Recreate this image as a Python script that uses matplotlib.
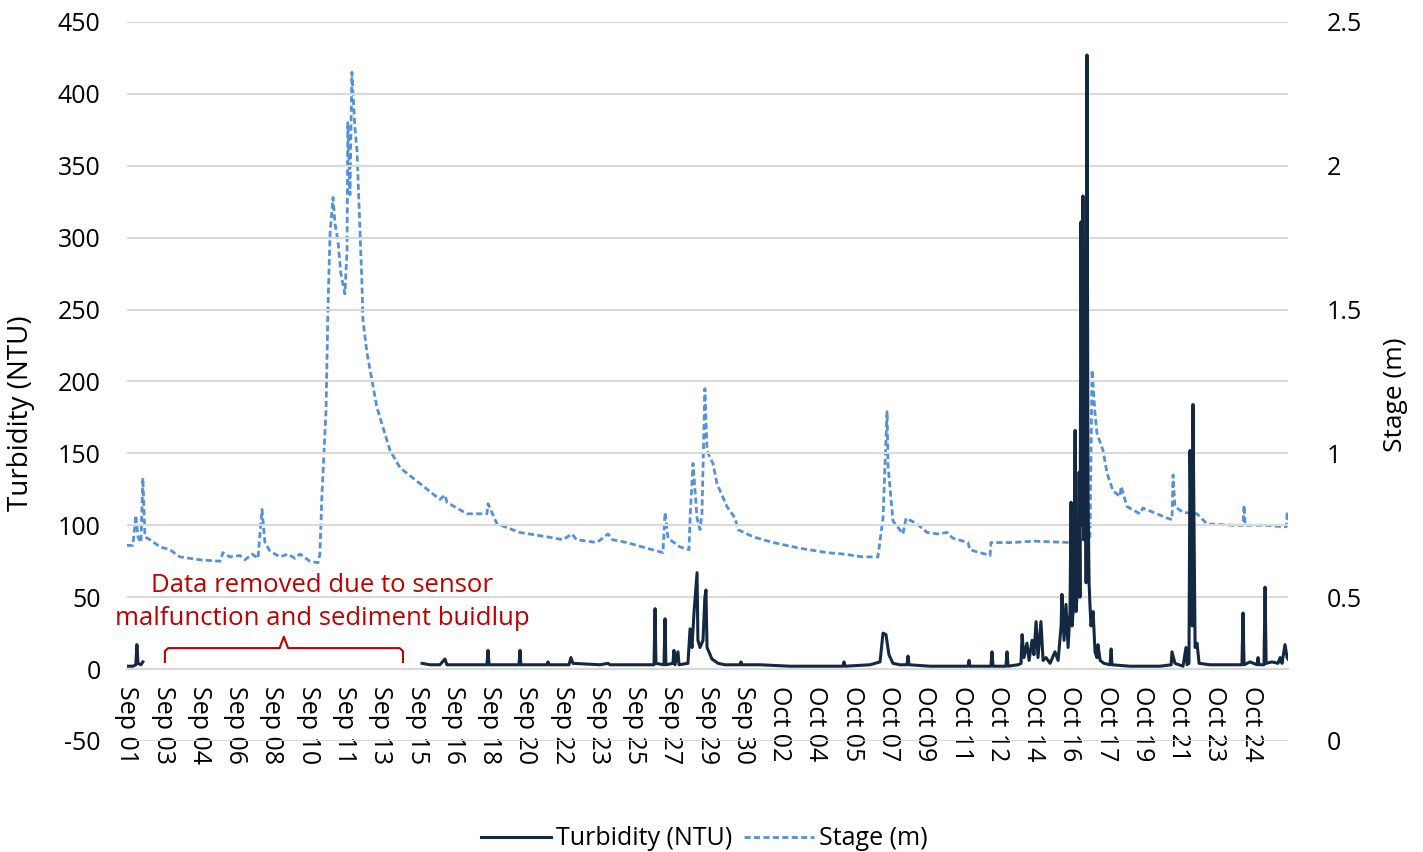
import numpy as np
import matplotlib.pyplot as plt

# time in days since the first record
stage_t = [0.00, 0.28, 0.42, 0.52, 0.66, 0.75, 0.85, 1.08, 1.56, 2.03, 2.50, 3.44, 4.39, 4.53, 4.86,
           5.33, 5.57, 5.90, 6.18, 6.37, 6.51, 6.75, 7.22, 7.59, 7.92, 8.16, 8.63, 9.01, 9.10, 9.20,
           9.39, 9.48, 9.58, 9.72, 9.81, 9.95, 10.09, 10.28, 10.38, 10.42, 10.52, 10.61, 10.75, 10.85,
           11.08, 11.13, 11.32, 11.79, 12.41, 12.88, 13.82, 14.76, 15.00, 15.09, 16.04, 16.98, 17.03,
           17.45, 18.54, 19.81, 20.57, 20.99, 21.20, 22.17, 22.69, 22.90, 23.58, 24.53, 25.28, 25.38,
           25.52, 26.08, 26.51, 26.56, 26.70, 26.89, 27.03, 27.12, 27.26, 27.36, 27.50, 27.64, 27.83,
           28.30, 28.68, 28.82, 29.53, 30.47, 31.75, 33.02, 33.77, 34.72, 35.42, 35.66, 35.85, 35.90,
           36.13, 36.60, 36.75, 37.26, 37.74, 38.21, 38.68, 38.96, 39.67, 39.76, 40.71, 40.75, 41.79,
           42.74, 44.48, 45.42, 45.52, 45.66, 45.75, 46.04, 46.23, 46.51, 46.84, 46.89, 47.17, 47.78,
           47.92, 49.06, 49.29, 49.34, 49.43, 49.81, 50.47, 50.94, 52.17, 52.64, 52.69, 52.74, 53.77,
           54.53, 54.68, 54.72, 54.76]
stage_m = [0.68, 0.68, 0.785, 0.71, 0.69, 0.915, 0.71, 0.70, 0.675, 0.665, 0.64, 0.63, 0.625, 0.655, 0.64,
           0.645, 0.63, 0.65, 0.635, 0.805, 0.69, 0.66, 0.64, 0.65, 0.635, 0.65, 0.625, 0.62, 0.65, 0.86,
           1.15, 1.50, 1.765, 1.89, 1.80, 1.74, 1.625, 1.555, 1.705, 2.15, 1.90, 2.325, 2.135, 2.055,
           1.60, 1.465, 1.35, 1.16, 1.01, 0.95, 0.895, 0.84, 0.855, 0.83, 0.79, 0.79, 0.825,
           0.755, 0.725, 0.71, 0.70, 0.72, 0.70, 0.69, 0.72, 0.70, 0.69, 0.67, 0.655, 0.795,
           0.705, 0.675, 0.665, 0.775, 0.965, 0.775, 0.735, 0.79, 1.225, 1.01, 0.985, 0.965, 0.895,
           0.815, 0.775, 0.735, 0.71, 0.69, 0.67, 0.655, 0.65, 0.64, 0.64, 0.775, 1.145, 0.955,
           0.765, 0.72, 0.775, 0.755, 0.725, 0.72, 0.725, 0.705, 0.69, 0.665, 0.645, 0.69, 0.69,
           0.695, 0.69, 0.705, 1.29, 1.14, 1.07, 1.01, 0.93, 0.87, 0.85, 0.885, 0.815, 0.79,
           0.81, 0.775, 0.77, 0.925, 0.815, 0.795, 0.79, 0.755, 0.75, 0.75, 0.82, 0.75, 0.75,
           0.745, 0.745, 0.79, 0.77]

turb_t = [0.00, 0.28, 0.42, 0.47, 0.52, 0.66, 0.75, 0.80,
          13.92, 14.29, 14.76, 15.00, 15.09, 16.18, 16.98, 17.03, 17.08, 18.07, 18.49, 18.54, 18.58,
          19.81, 19.86, 19.91, 20.85, 20.94, 21.04, 22.31, 22.69, 22.78, 24.20, 24.86, 24.91, 24.95,
          25.33, 25.38, 25.42, 25.75, 25.80, 25.85, 25.99, 26.04, 26.46, 26.56, 26.65, 26.75, 26.89,
          26.93, 27.03, 27.17, 27.26, 27.31, 27.36, 27.45, 27.59, 27.88, 28.21, 28.92, 28.96, 29.01,
          29.86, 31.27, 33.77, 33.82, 33.87, 35.05, 35.52, 35.66, 35.80, 35.94, 36.13, 36.46, 36.79,
          36.84, 36.89, 37.88, 39.67, 39.72, 39.76, 40.75, 40.80, 40.85, 41.46, 41.51, 41.56, 42.03,
          42.17, 42.22, 42.31, 42.45, 42.55, 42.69, 42.78, 42.88, 42.97, 43.11, 43.21, 43.35, 43.54,
          43.77, 43.92, 44.06, 44.10, 44.20, 44.29, 44.39, 44.48, 44.53, 44.58, 44.67, 44.72, 44.76,
          44.86, 44.91, 44.95, 45.00, 45.05, 45.09, 45.14, 45.19, 45.24, 45.28, 45.33, 45.38, 45.42,
          45.47, 45.57, 45.66, 45.75, 45.80, 45.90, 46.08, 46.37, 46.42, 46.46, 47.31, 48.73, 49.25,
          49.29, 49.43, 49.81, 49.95, 50.00, 50.09, 50.14, 50.24, 50.28, 50.38, 50.47, 50.57, 51.08,
          52.03, 52.59, 52.64, 52.69, 52.97, 53.30, 53.35, 53.40, 53.63, 53.68, 53.73, 54.01, 54.29,
          54.39, 54.48, 54.62, 54.72, 54.76]
turb_ntu = [2, 2, 3, 17, 4, 3, 5, np.nan,
            4, 3, 3, 7, 3, 3, 3, 13, 3, 3, 3, 13, 3,
            3, 5, 3, 3, 8, 4, 3, 4, 3, 3, 3, 42, 4,
            3, 35, 3, 4, 13, 3, 12, 3, 4, 28, 15, 40, 67,
            20, 15, 20, 50, 55, 15, 12, 7, 4, 3, 3, 5, 3,
            3, 2, 2, 5, 2, 3, 5, 25, 24, 10, 4, 3, 3,
            9, 3, 2, 2, 6, 2, 2, 12, 2, 2, 12, 2, 3,
            4, 24, 8, 18, 6, 20, 10, 33, 8, 33, 6, 8, 4,
            12, 6, 30, 52, 20, 45, 15, 40, 116, 30, 50, 166, 40,
            60, 137, 50, 311, 100, 329, 90, 293, 60, 427, 120, 60, 45,
            30, 40, 12, 8, 17, 6, 4, 3, 14, 3, 2, 2, 3,
            12, 4, 2, 15, 3, 4, 152, 30, 184, 15, 18, 4, 3,
            3, 3, 39, 3, 5, 3, 8, 3, 3, 57, 4, 5, 4,
            8, 4, 17, 8, 7]

tick_labels = ["Sep 01", "Sep 03", "Sep 04", "Sep 06", "Sep 08", "Sep 10", "Sep 11", "Sep 13",
               "Sep 15", "Sep 16", "Sep 18", "Sep 20", "Sep 22", "Sep 23", "Sep 25", "Sep 27",
               "Sep 29", "Sep 30", "Oct 02", "Oct 04", "Oct 05", "Oct 07", "Oct 09", "Oct 11",
               "Oct 12", "Oct 14", "Oct 16", "Oct 17", "Oct 19", "Oct 21", "Oct 23", "Oct 24"]
tick_step = 1.7104

plt.rcParams['font.family'] = ['Open Sans', 'DejaVu Sans']
plt.rcParams['axes.unicode_minus'] = False

fig = plt.figure(figsize=(14.23, 8.52), dpi=100)
ax = fig.add_axes([0.0892, 0.1303, 0.8159, 0.8439])
ax2 = ax.twinx()

turb_color = '#142842'
stage_color = '#5590d8'

l1, = ax.plot(turb_t, turb_ntu, color=turb_color, lw=2.2, label='Turbidity (NTU)', zorder=3)
l2, = ax2.plot(stage_t, stage_m, color=stage_color, lw=2.0, ls=(0, (2.2, 1.2)), label='Stage (m)')
ax.set_zorder(ax2.get_zorder() + 1)
ax.patch.set_visible(False)

for a in (ax, ax2):
    for s in a.spines.values():
        s.set_visible(False)
# horizontal axis crosses at zero, labels hang below it
ax.spines['bottom'].set_position(('data', 0))
ax.spines['bottom'].set_visible(True)
ax.spines['bottom'].set_color('#d9d9d9')
ax.spines['bottom'].set_linewidth(1.5)

ax.set_xlim(0, 54.76)
ax.set_ylim(-50, 450)
ax.set_yticks(np.arange(-50, 451, 50))
ax2.set_ylim(0, 2.5)
ax2.set_yticks([0, 0.5, 1, 1.5, 2, 2.5])
ax2.set_yticklabels(['0', '0.5', '1', '1.5', '2', '2.5'])

ax.set_xticks(np.arange(len(tick_labels)) * tick_step)
ax.set_xticklabels(tick_labels, rotation=270, ha='center', va='top')

for a in (ax, ax2):
    a.tick_params(length=0, labelsize=18)
ax.tick_params(axis='y', pad=19)
ax2.tick_params(axis='y', pad=28)
ax.tick_params(axis='x', pad=12)

ax.grid(axis='y', color='#d9d9d9', lw=1.5)
ax.set_axisbelow(True)

ax.set_ylabel('Turbidity (NTU)', fontsize=20)
ax.yaxis.set_label_coords(-0.079, 0.456)
ax2.set_ylabel('Stage (m)', fontsize=19)
ax2.yaxis.set_label_coords(1.082, 0.481)

# annotation for the gap in turbidity record
ax.text(9.2, 46.6, 'Data removed due to sensor\nmalfunction and sediment buidlup',
        color='#c00000', fontsize=18.5, ha='center', va='center', linespacing=1.4)
bx = [1.79, 1.79, 1.95, 7.2, 7.4, 7.6, 12.86, 13.02, 13.02]
by = [4.9, 12.5, 14.6, 14.6, 22.5, 14.6, 14.6, 12.5, 4.9]
ax.plot(bx, by, color='#c00000', lw=1.5)

fig.legend(handles=[l1, l2], loc='lower center', bbox_to_anchor=(0.495, -0.011), ncol=2,
           frameon=False, fontsize=18, handlelength=2.8, columnspacing=0.5, handletextpad=0.2,
           borderaxespad=0)

fig.savefig('out.png', dpi=100)
